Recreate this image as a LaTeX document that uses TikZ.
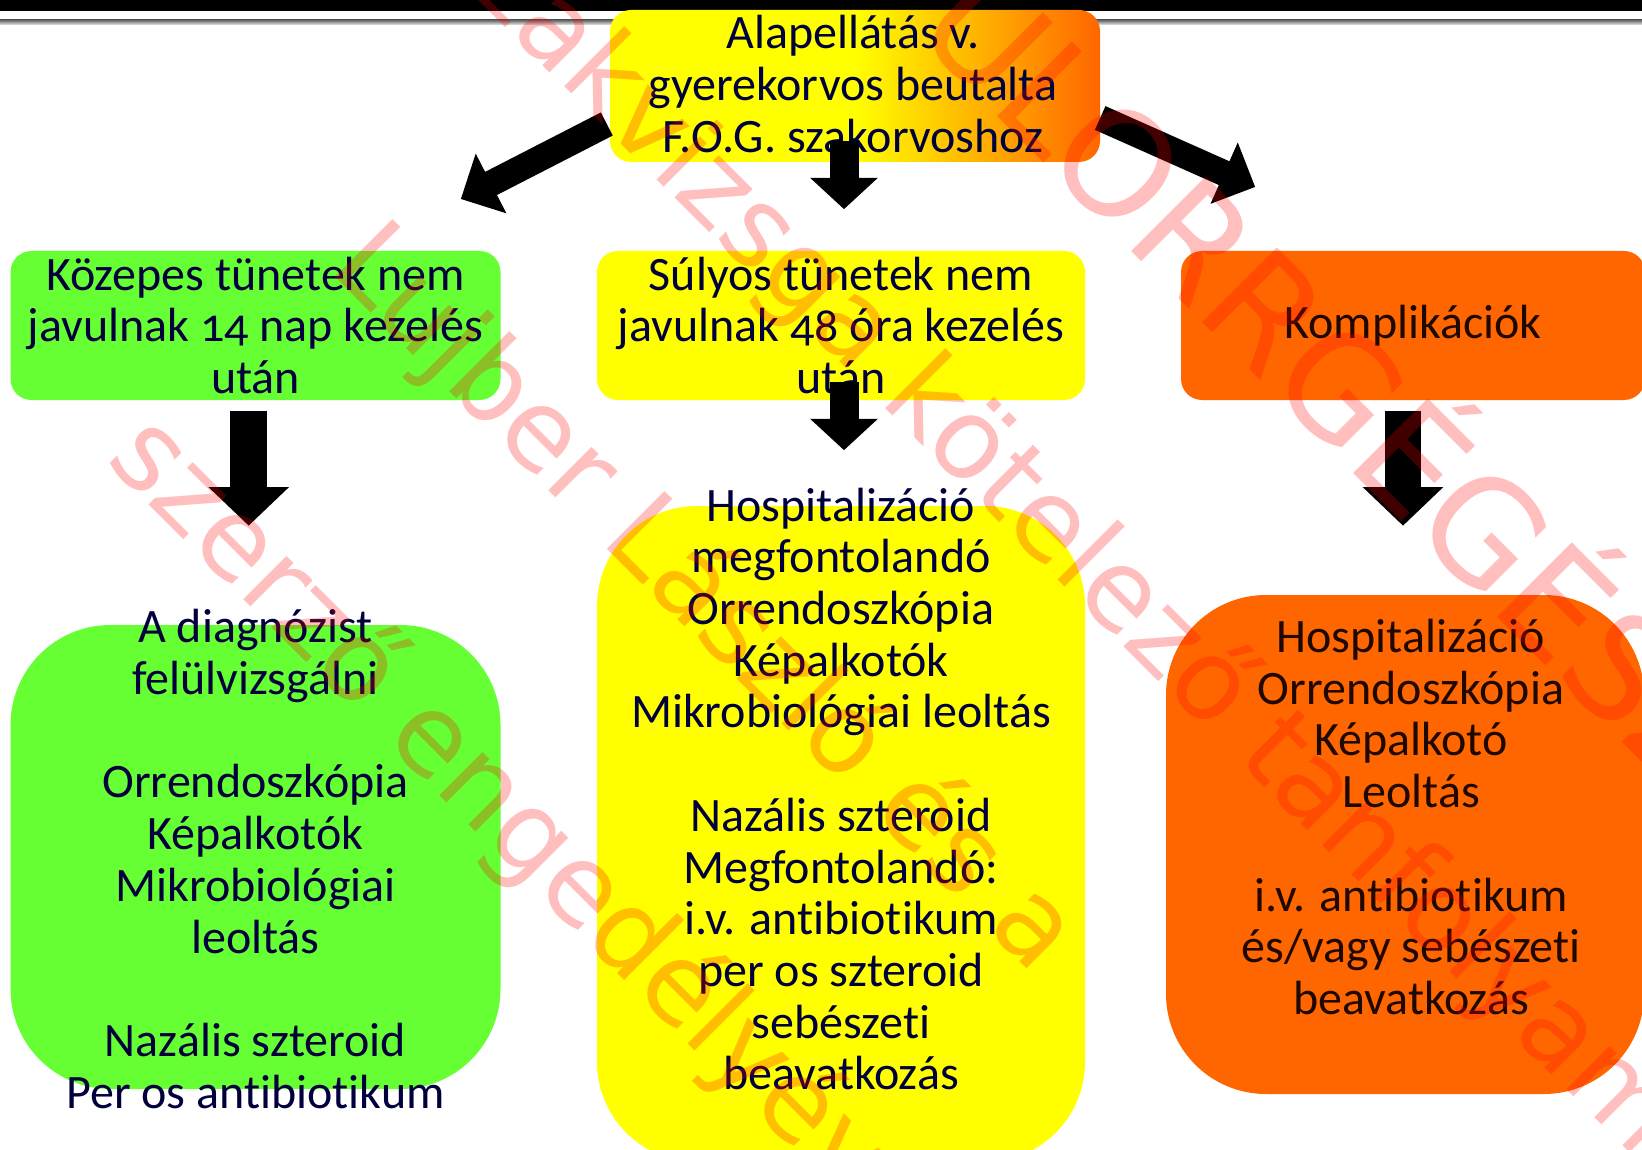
\documentclass[tikz,border=0pt]{standalone}
\usepackage{fontspec}
\setmainfont{Carlito}[Numbers=OldStyle,RawFeature={-liga}]
\newfontfamily\wmfont{DejaVu Sans}
\usetikzlibrary{arrows.meta}
\definecolor{fogyellow}{RGB}{255,255,0}
\definecolor{foggreen}{RGB}{102,255,51}
\definecolor{fogorange}{RGB}{255,102,0}
\definecolor{fognavy}{RGB}{0,0,60}
\definecolor{fogbrown}{RGB}{30,8,0}

\begin{document}
\begin{tikzpicture}[
    x=1pt,y=-1pt,
    box/.style={rectangle,rounded corners=21pt,inner sep=0pt},
    bigbox/.style={box,rounded corners=100pt},
    txt/.style={align=center,text=fognavy,inner sep=0pt,
        font=\fontsize{48}{51.7}\selectfont},
    darktxt/.style={txt,text=fogbrown},
    bigarrow/.style={line width=36.6pt,-{Triangle[length=38.7pt,width=78.5pt]}},
    smallarrow/.style={line width=29pt,-{Triangle[length=31.4pt,width=66pt]}},
    diagarrow/.style={line width=26pt,-{Triangle[length=34pt,width=65pt]}},
    watermark/.style={anchor=west,rotate=-45,inner sep=0pt,text=red,
        text opacity=0.25,font=\wmfont\fontsize{112}{112}\selectfont}
  ]
    \useasboundingbox (0,0) rectangle (1642,1150);
    \clip (0,0) rectangle (1642,1150);

    % header bar
    \fill[black] (0,0) rectangle (1642,11);
    \shade[top color=black!60,bottom color=black!8] (0,20) rectangle (1642,25);

    % referral
    \node[box,minimum width=490pt,minimum height=152pt,
        left color=fogyellow,right color=fogorange,middle color=fogyellow]
        (referral) at (855,86) {};
    \node[txt] (referraltext) at (853,84)
        {Alapellátás v.\\gyerekorvos beutalta\\F.O.G. szakorvoshoz};

    % middle row
    \node[box,fill=foggreen,minimum width=490pt,minimum height=149pt]
        (mild) at (255.5,325.5) {};
    \node[txt] (mildtext) at (mild)
        {Közepes tünetek nem\\javulnak 14 nap kezelés\\után};
    \node[box,fill=fogyellow,minimum width=488pt,minimum height=149pt]
        (severe) at (841,325.5) {};
    \node[txt] (severetext) at (severe)
        {Súlyos tünetek nem\\javulnak 48 óra kezelés\\után};
    \node[box,fill=fogorange,minimum width=464pt,minimum height=149pt]
        (compl) at (1413,325.5) {};
    \node[darktxt] (compltext) at (compl) {Komplikációk};

    % bottom row
    \node[bigbox,fill=foggreen,minimum width=490pt,minimum height=464pt]
        (checks) at (255.5,857) {};
    \node[txt] (checkstext) at (255.5,859)
        {A diagnózist\\felülvizsgálni\\[51.7pt]Orrendoszkópia\\Képalkotók\\
         Mikrobiológiai\\leoltás\\[51.7pt]Nazális szteroid\\Per os antibiotikum};
    \node[bigbox,fill=fogyellow,minimum width=488pt,minimum height=656pt]
        (hosp) at (841,834) {};
    \node[txt] (hosptext) at (841,789)
        {Hospitalizáció\\megfontolandó\\Orrendoszkópia\\Képalkotók\\
         Mikrobiológiai leoltás\\[51.7pt]Nazális szteroid\\Megfontolandó:\\
         i.v. antibiotikum\\per os szteroid\\sebészeti\\beavatkozás};
    \node[bigbox,fill=fogorange,minimum width=478pt,minimum height=499pt]
        (surg) at (1405,844.5) {};
    \node[darktxt] (surgtext) at (1411,817)
        {Hospitalizáció\\Orrendoszkópia\\Képalkotó\\Leoltás\\[51.7pt]
         i.v. antibiotikum\\és/vagy sebészeti\\beavatkozás};

    % block arrows
    \draw[diagarrow] ([xshift=-3pt,yshift=-38pt]referral.west) -- ++(-146,75);
    \draw[diagarrow] ([yshift=-32pt]referral.east) -- ++(155,69);
    \draw[smallarrow] ([xshift=-11pt,yshift=21pt]referral.south) -- ++(0,68);
    \draw[smallarrow] ([xshift=3pt,yshift=18pt]severe.south) -- ++(0,68);
    \draw[bigarrow] ([xshift=-6.8pt,yshift=-10.5pt]mild.south) -- ++(0,115);
    \draw[bigarrow] ([xshift=-10pt,yshift=-10.5pt]compl.south) -- ++(0,115);

    % watermark
    \begin{scope}[every node/.style=watermark]
        \node (wmone) at (128,437) {szerző engedélyével};
        \node (wmtwo) at (351,246) {Lujber László és a};
        \node (wmthree) at (440,-84) {Szakvizsga kötelező tanfolyam};
        \node[font=\wmfont\fontsize{145}{145}\selectfont]
            (wmfour) at (900,-74) {FÜLORRGÉGÉSZET};
    \end{scope}
\end{tikzpicture}
\end{document}
